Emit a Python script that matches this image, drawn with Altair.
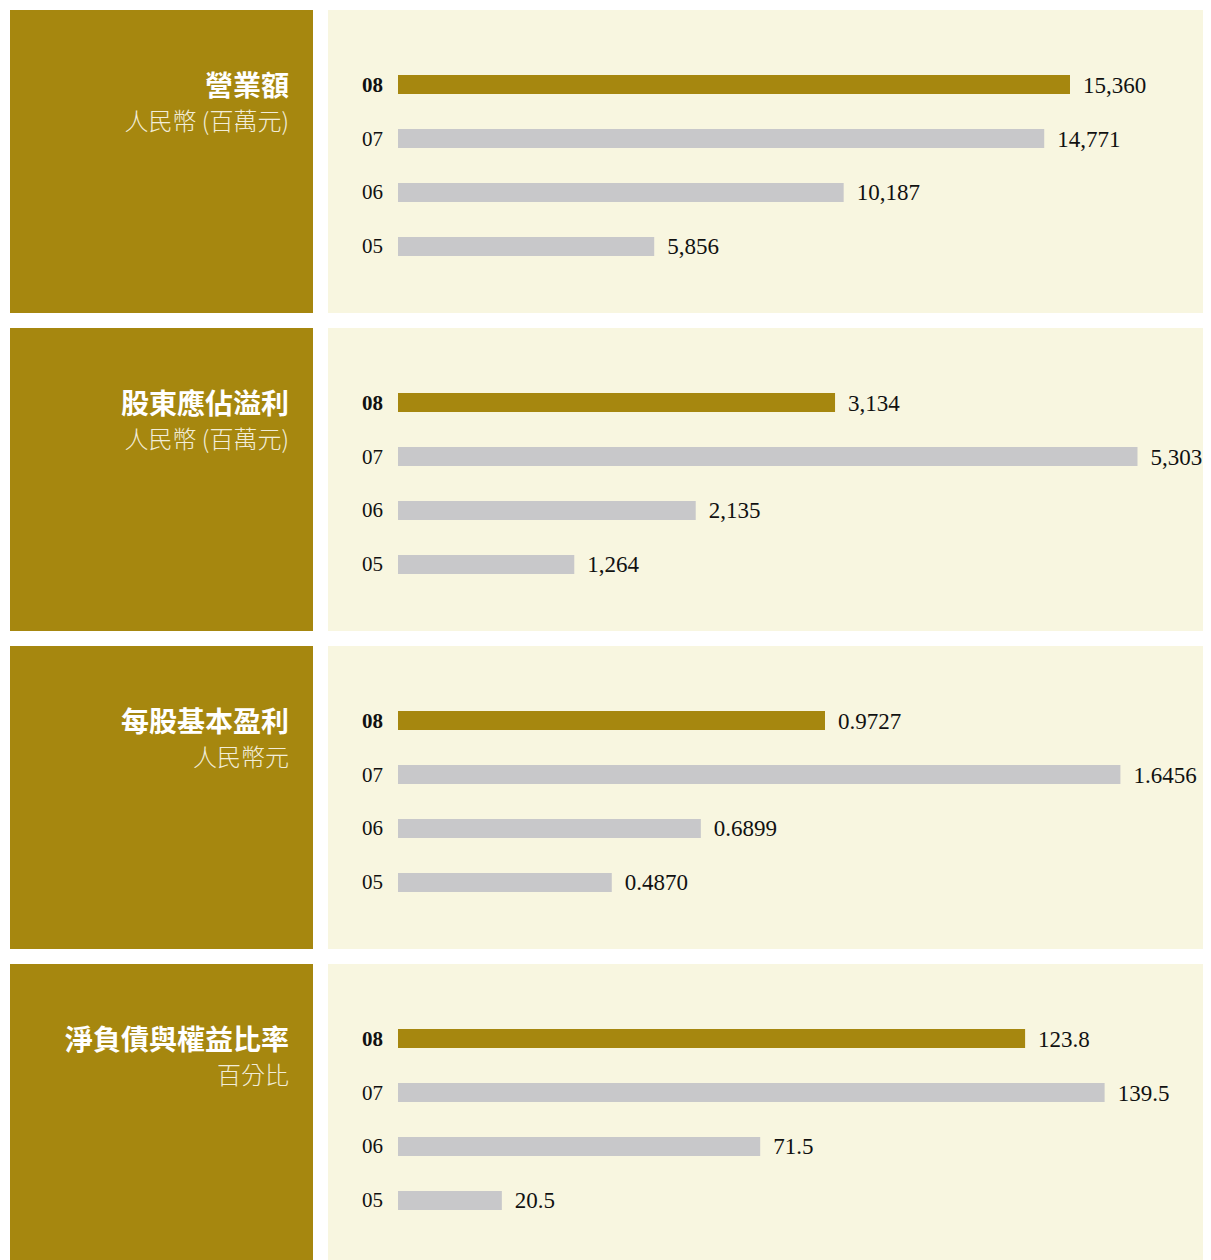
import altair as alt
import pandas as pd

# ---- data ----
years = ["08", "07", "06", "05"]
titles = ["營業額", "股東應佔溢利", "每股基本盈利", "淨負債與權益比率"]
subtitles = ["人民幣 (百萬元)", "人民幣 (百萬元)", "人民幣元", "百分比"]
revenue = [15360, 14771, 10187, 5856]
profit = [3134, 5303, 2135, 1264]
eps = [0.9727, 1.6456, 0.6899, 0.4870]
gearing = [123.8, 139.5, 71.5, 20.5]
series = [revenue, profit, eps, gearing]
formats = [",d", ",d", ".4f", ".1f"]
axis_max = [18583, 5830, 1.852, 160.5]

GOLD = "#A6870F"
CREAM = "#F8F6E0"
GREY = "#C8C8CA"
SERIF = "Liberation Serif"
CJK = "Noto Sans CJK TC"

PANEL_H = 303
LEFT_W = 303
RIGHT_W = 875
BAR_START = 70
TRACK_END = 883


def left_panel(title, subtitle):
    df = pd.DataFrame({"title": [title], "subtitle": [subtitle]})
    base = alt.Chart(df)
    t = base.mark_text(align="right", baseline="middle", font=CJK, fontSize=28,
                       fontWeight="bold", color="#FFFFFF").encode(
        text="title:N", x=alt.value(LEFT_W - 24), y=alt.value(78))
    s = base.mark_text(align="right", baseline="middle", font=CJK, fontSize=24,
                       fontWeight=300, color="#F2EDD8").encode(
        text="subtitle:N", x=alt.value(LEFT_W - 24), y=alt.value(113))
    return alt.layer(t, s).properties(
        width=LEFT_W, height=PANEL_H, view=alt.ViewBackground(fill=GOLD, stroke=None))


def right_panel(values, fmt, xmax):
    df = pd.DataFrame({"year": years, "value": values})
    xscale = alt.Scale(domain=[0, xmax], range=[BAR_START, TRACK_END], zero=True, nice=False)
    yscale = alt.Scale(domain=years, range=[38, 273], paddingInner=0.648, paddingOuter=0.5)
    base = alt.Chart(df)
    bars = base.mark_bar().encode(
        x=alt.X("value:Q", scale=xscale, axis=None),
        y=alt.Y("year:N", scale=yscale, axis=None),
        color=alt.Color("year:N", scale=alt.Scale(domain=years, range=[GOLD, GREY, GREY, GREY]), legend=None),
    )
    vals = base.mark_text(align="left", baseline="middle", dx=13, dy=1, font=SERIF,
                          fontSize=23, color="#111111", clip=True).encode(
        x=alt.X("value:Q", scale=xscale, axis=None),
        y=alt.Y("year:N", scale=yscale, axis=None),
        text=alt.Text("value:Q", format=fmt),
    )
    yl_bold = base.transform_filter(alt.datum.year == "08").mark_text(
        align="right", baseline="middle", dx=-15, dy=1, font=SERIF, fontSize=21,
        fontWeight="bold", color="#111111").encode(
        x=alt.datum(0),
        y=alt.Y("year:N", scale=yscale, axis=None),
        text="year:N",
    )
    yl = base.transform_filter(alt.datum.year != "08").mark_text(
        align="right", baseline="middle", dx=-15, dy=1, font=SERIF, fontSize=21,
        color="#111111").encode(
        x=alt.datum(0),
        y=alt.Y("year:N", scale=yscale, axis=None),
        text="year:N",
    )
    return alt.layer(bars, vals, yl_bold, yl).properties(
        width=RIGHT_W, height=PANEL_H, view=alt.ViewBackground(fill=CREAM, stroke=None))


rows = []
for i in range(4):
    rows.append(alt.hconcat(left_panel(titles[i], subtitles[i]),
                            right_panel(series[i], formats[i], axis_max[i]),
                            spacing=15))

chart = alt.vconcat(*rows, spacing=15).properties(
    padding={"left": 2, "top": 2, "right": 0, "bottom": 0},
    background="#FFFFFF",
).configure_view(stroke=None)

chart.save("out.html", embed_options={"renderer": "svg", "actions": False})
